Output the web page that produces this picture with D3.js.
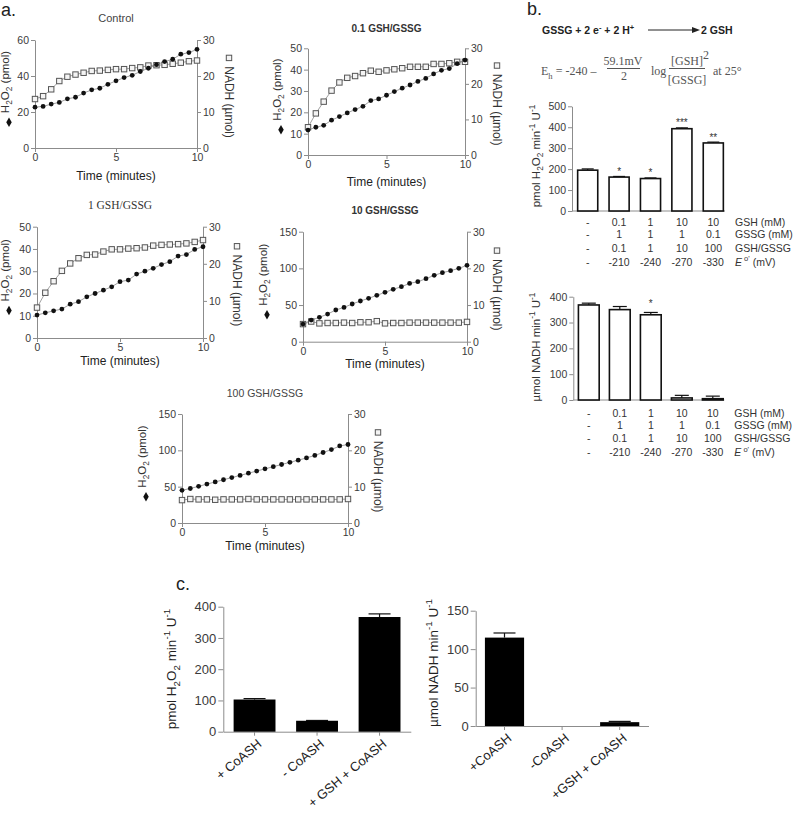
<!DOCTYPE html>
<html><head><meta charset="utf-8">
<script src="https://cdn.jsdelivr.net/npm/d3@7"></script>
<style>
body{margin:0;background:#fff;}
svg{font-family:"Liberation Sans",Arial,sans-serif;}
</style></head><body>
<svg id="fig" width="796" height="817"></svg>
<script>
// ---------- DATA ----------
const times = [0,0.5,1,1.5,2,2.5,3,3.5,4,4.5,5,5.5,6,6.5,7,7.5,8,8.5,9,9.5,10];
const timeTicks = [0,5,10];
const nadhTicks = [0,10,20,30];

const ctrlH2O2 = [22.7,23.1,24.4,25.3,27.3,28.2,30.5,32.3,33.2,35.4,37.3,39.1,40.4,42.5,44.3,46.3,48.0,49.3,52.1,53.0,54.8];
const ctrlNADH = [13.6,14.4,16.3,18.6,19.8,20.4,20.9,21.4,21.5,21.7,21.9,21.9,22.2,22.4,22.9,23.0,23.1,23.4,23.7,24.1,24.3];
const r01H2O2 = [11.7,13.0,13.9,16.3,18.0,19.7,21.3,22.8,25.5,26.3,28.0,29.7,31.3,32.8,34.5,35.9,38.0,39.7,40.5,42.8,44.5];
const r01NADH = [7.8,11.7,15.0,18.1,20.4,21.7,22.2,23.0,23.7,23.4,23.8,24.1,24.4,24.8,24.8,24.8,25.6,25.6,25.8,26.2,26.2];
const r1H2O2 = [10.3,11.3,12.2,13.0,15.2,16.3,18.5,20.0,21.5,23.0,25.3,26.0,28.7,30.0,31.3,33.0,34.3,36.8,37.5,39.8,41.0];
const r1NADH = [8.2,12.2,15.3,18.1,20.1,21.5,22.4,22.5,23.3,23.9,23.9,24.1,24.2,24.4,24.9,25.1,25.2,25.3,25.5,25.9,26.4];
const r10H2O2 = [24.1,29.5,33.2,37.7,43.2,46.8,51.4,55.5,59.1,63.2,67.3,71.4,75.0,79.5,81.8,85.9,90.5,94.1,96.8,100.0,104.1];
const r10NADH = [4.8,5.5,5.0,5.1,5.1,5.2,5.1,5.3,5.3,5.6,5.0,5.1,5.1,5.2,5.2,5.2,5.2,5.2,5.2,5.2,5.4];
const r100H2O2 = [45,47.5,50.5,53.5,56.5,59.5,62.5,65.5,68.5,71.5,74.5,77.5,80.5,83.5,86.5,89.5,93,97,101,106,108];
const r100NADH = [6.3,6.6,6.5,6.5,6.4,6.5,6.5,6.5,6.6,6.5,6.5,6.5,6.5,6.5,6.5,6.5,6.5,6.5,6.5,6.5,6.6];

const bCats = ["c1","c2","c3","c4","c5"];
const bGSH = ["-","0.1","1","10","10"];
const bGSSG = ["-","1","1","1","0.1"];
const bRatio = ["-","0.1","1","10","100"];
const bE = ["-","-210","-240","-270","-330"];
const bH2O2 = [195,162,155,393,325];
const bH2O2Err = [6,3,3,4,4];
const bH2O2Sig = ["","*","*","***","**"];
const bNADH = [368,350,330,8,5];
const bNADHErr = [7,12,9,10,10];
const bNADHSig = ["","","*","",""];

const cCatsL = ["+ CoASH","- CoASH","+ GSH + CoASH"];
const cH2O2 = [103,35,367];
const cH2O2Err = [3,1,10];
const cCatsR = ["+CoASH","-CoASH","+GSH + CoASH"];
const cNADH = [115,0,5];
const cNADHErr = [6,0,1];

// ---------- HELPERS ----------
const FONT = '"Liberation Sans",Arial,sans-serif';
const SERIF = '"Liberation Serif","Times New Roman",serif';
const AX = "#8c8c8c";
const svg = d3.select("#fig");

function styleAxis(g, fs, col) {
  g.attr("font-size", fs).attr("font-family", FONT);
  g.select(".domain").attr("stroke", AX).attr("stroke-width", 1);
  g.selectAll(".tick line").attr("stroke", AX);
  g.selectAll(".tick text").attr("fill", col || "#3a3a3a");
}
function rich(sel, parts, fs) {
  let shift = 0;
  parts.forEach(([t, type]) => {
    const ts = sel.append("tspan").text(t);
    let target = 0, size = fs;
    if (type === "sub") { target = fs * 0.3; size = fs * 0.72; }
    if (type === "sup") { target = -fs * 0.42; size = fs * 0.72; }
    ts.attr("dy", target - shift).attr("font-size", size);
    if (type === "i") ts.attr("font-style", "italic");
    shift = target;
  });
  return sel;
}

// ---------- PANEL a ----------
function timePanel(o) {
  const g = svg.append("g");
  const x = d3.scaleLinear().domain([0, 10]).range([o.l, o.r]);
  const yL = d3.scaleLinear().domain([0, o.lmax]).range([o.b, o.t]);
  const yR = d3.scaleLinear().domain([0, 30]).range([o.b, o.t]);

  const gx = g.append("g").attr("transform", `translate(0,${o.b})`)
    .call(d3.axisBottom(x).tickValues(timeTicks).tickSize(4).tickSizeOuter(0).tickPadding(1.5));
  styleAxis(gx, 10.5);
  const gl = g.append("g").attr("transform", `translate(${o.l},0)`)
    .call(d3.axisLeft(yL).tickValues(o.lticks).tickSize(4).tickSizeOuter(0).tickPadding(2));
  styleAxis(gl, 10.5);
  const gr = g.append("g").attr("transform", `translate(${o.r},0)`)
    .call(d3.axisRight(yR).tickValues(nadhTicks).tickSize(4).tickSizeOuter(0).tickPadding(2));
  styleAxis(gr, 10.5);

  const lnR = d3.line().x((d, i) => x(times[i])).y(d => yR(d));
  const lnL = d3.line().x((d, i) => x(times[i])).y(d => yL(d));
  g.append("path").datum(o.nadh).attr("d", lnR).attr("fill", "none").attr("stroke", "#a0a0a0").attr("stroke-width", 1);
  g.append("path").datum(o.h2o2).attr("d", lnL).attr("fill", "none").attr("stroke", "#a0a0a0").attr("stroke-width", 1);
  g.selectAll("rect.sq").data(o.nadh).join("rect").attr("class", "sq")
    .attr("x", (d, i) => x(times[i]) - 2.7).attr("y", d => yR(d) - 2.7)
    .attr("width", 5.4).attr("height", 5.4)
    .attr("fill", "#f4f4f4").attr("stroke", "#555").attr("stroke-width", 1);
  g.selectAll("circle.pt").data(o.h2o2).join("circle").attr("class", "pt")
    .attr("cx", (d, i) => x(times[i])).attr("cy", d => yL(d)).attr("r", 2.4).attr("fill", "#111");

  // title
  g.append("text").attr("x", (o.l + o.r) / 2).attr("y", o.titleY).attr("text-anchor", "middle")
    .attr("font-family", o.titleFont || FONT).attr("font-weight", o.titleWeight || "normal")
    .attr("font-size", o.titleSize).attr("fill", o.titleColor || "#444").text(o.title);
  // time label
  g.append("text").attr("x", (o.l + o.r) / 2).attr("y", o.b + o.timeOff).attr("dy", "0.35em")
    .attr("text-anchor", "middle").attr("font-size", 12).attr("fill", "#222").text("Time (minutes)");

  const mid = (o.t + o.b) / 2;
  // left label
  const lc = mid - 12;
  const tl = g.append("text").attr("transform", `translate(${o.l - o.loff},${lc}) rotate(-90)`)
    .attr("text-anchor", "middle").attr("dy", "0.3em").attr("fill", "#333");
  rich(tl, [["H", "n"], ["2", "sub"], ["O", "n"], ["2", "sub"], [" (pmol)", "n"]], 11.5);
  const lenL = tl.node().getComputedTextLength();
  g.append("path").attr("d", d3.symbol(d3.symbolDiamond, 26)())
    .attr("transform", `translate(${o.l - o.loff},${lc + lenL / 2 + 9})`).attr("fill", "#111");
  // right label
  const rc = mid + 8;
  const tr = g.append("text").attr("transform", `translate(${o.r + o.roff},${rc}) rotate(90)`)
    .attr("text-anchor", "middle").attr("dy", "0.35em").attr("fill", "#333")
    .attr("font-size", 12).text("NADH (\u00b5mol)");
  const lenR = tr.node().getComputedTextLength();
  g.append("rect").attr("x", o.r + o.roff - 2.7).attr("y", rc - lenR / 2 - 11)
    .attr("width", 5.4).attr("height", 5.4).attr("fill", "#f4f4f4").attr("stroke", "#555");
}

timePanel({l: 35, r: 197, t: 40, b: 148, lmax: 60, lticks: [0,20,40,60], h2o2: ctrlH2O2, nadh: ctrlNADH,
  title: "Control", titleY: 22, titleSize: 11, timeOff: 28, loff: 26, roff: 32});
timePanel({l: 308, r: 465, t: 48.3, b: 155, lmax: 50, lticks: [0,10,20,30,40,50], h2o2: r01H2O2, nadh: r01NADH,
  title: "0.1 GSH/GSSG", titleY: 32, titleSize: 10, titleWeight: "bold", titleColor: "#333", timeOff: 27, loff: 27, roff: 32});
timePanel({l: 37, r: 203, t: 226.7, b: 338, lmax: 50, lticks: [0,10,20,30,40,50], h2o2: r1H2O2, nadh: r1NADH,
  title: "1 GSH/GSSG", titleY: 209, titleSize: 11.5, titleFont: SERIF, titleColor: "#333", timeOff: 22.5, loff: 28, roff: 34});
timePanel({l: 303, r: 467, t: 231.7, b: 341.7, lmax: 150, lticks: [0,50,100,150], h2o2: r10H2O2, nadh: r10NADH,
  title: "10 GSH/GSSG", titleY: 214, titleSize: 10, titleWeight: "bold", titleColor: "#333", timeOff: 22, loff: 36, roff: 30});
timePanel({l: 182, r: 348, t: 414, b: 523, lmax: 150, lticks: [0,50,100,150], h2o2: r100H2O2, nadh: r100NADH,
  title: "100 GSH/GSSG", titleY: 397, titleSize: 10.5, timeOff: 23, loff: 36, roff: 30});

// panel letters
svg.append("text").attr("x", 1).attr("y", 16).attr("font-size", 18).attr("fill", "#222").text("a.");
svg.append("text").attr("x", 527).attr("y", 15).attr("font-size", 18).attr("fill", "#222").text("b.");
svg.append("text").attr("x", 176).attr("y", 590).attr("font-size", 18).attr("fill", "#222").text("c.");

// ---------- PANEL b : equations ----------
const eq = svg.append("g").attr("fill", "#222");
const rx = eq.append("text").attr("x", 542).attr("y", 34).attr("font-size", 10.5).attr("font-weight", "bold");
rich(rx, [["GSSG + 2 e", "n"], ["-", "sup"], [" + 2 H", "n"], ["+", "sup"]], 10.5);
eq.append("line").attr("x1", 648).attr("x2", 694).attr("y1", 30).attr("y2", 30).attr("stroke", "#222").attr("stroke-width", 1);
eq.append("path").attr("d", "M692,27 L700,30 L692,33 Z").attr("fill", "#222");
eq.append("text").attr("x", 701).attr("y", 34).attr("font-size", 10.5).attr("font-weight", "bold").text("2 GSH");

const eg = svg.append("g").attr("fill", "#555").attr("font-family", SERIF).attr("font-size", 12);
const e1 = eg.append("text").attr("x", 541).attr("y", 75);
rich(e1, [["E", "n"], ["h", "sub"], [" = -240 \u2013", "n"]], 12);
eg.append("text").attr("x", 623).attr("y", 65).attr("text-anchor", "middle").text("59.1mV");
eg.append("line").attr("x1", 607).attr("x2", 640).attr("y1", 68.5).attr("y2", 68.5).attr("stroke", "#555");
eg.append("text").attr("x", 624).attr("y", 80).attr("text-anchor", "middle").text("2");
eg.append("text").attr("x", 651).attr("y", 75).text("log");
eg.append("text").attr("x", 687).attr("y", 65).attr("text-anchor", "middle").text("[GSH]");
eg.append("text").attr("x", 706).attr("y", 59).attr("text-anchor", "middle").text("2");
eg.append("line").attr("x1", 669).attr("x2", 705).attr("y1", 68.5).attr("y2", 68.5).attr("stroke", "#555");
eg.append("text").attr("x", 687).attr("y", 84).attr("text-anchor", "middle").text("[GSSG]");
eg.append("text").attr("x", 713).attr("y", 75).text("at 25\u00b0");

// ---------- PANEL b : bar charts ----------
function bBar(o) {
  const g = svg.append("g");
  const x = d3.scaleBand().domain(bCats).range([o.l, o.l + 5 * o.step]).paddingInner(o.pad).paddingOuter(o.pad / 2);
  const y = d3.scaleLinear().domain([0, o.max]).range([o.b, o.t]);
  const gy = g.append("g").attr("transform", `translate(${o.l},0)`)
    .call(d3.axisLeft(y).tickValues(o.ticks).tickSize(4).tickSizeOuter(0).tickPadding(2));
  styleAxis(gy, 10.5);
  g.append("line").attr("x1", o.l).attr("x2", o.l + 5 * o.step - 4).attr("y1", o.b).attr("y2", o.b).attr("stroke", AX);
  const cx = d => x(d) + x.bandwidth() / 2;
  // error bars
  g.selectAll("line.eb").data(bCats).join("line").attr("class", "eb")
    .attr("x1", cx).attr("x2", cx).attr("y1", (d, i) => y(o.vals[i])).attr("y2", (d, i) => y(o.vals[i] + o.errs[i]))
    .attr("stroke", "#111").attr("stroke-width", 1.2);
  g.selectAll("line.cap").data(bCats).join("line").attr("class", "cap")
    .attr("x1", d => cx(d) - o.cap / 2).attr("x2", d => cx(d) + o.cap / 2)
    .attr("y1", (d, i) => y(o.vals[i] + o.errs[i])).attr("y2", (d, i) => y(o.vals[i] + o.errs[i]))
    .attr("stroke", "#111").attr("stroke-width", 1.2);
  g.selectAll("rect.bar").data(bCats).join("rect").attr("class", "bar")
    .attr("x", d => x(d)).attr("width", x.bandwidth())
    .attr("y", (d, i) => y(o.vals[i])).attr("height", (d, i) => o.b - y(o.vals[i]))
    .attr("fill", "#fff").attr("stroke", "#111").attr("stroke-width", 1.6);
  g.selectAll("text.sig").data(bCats).join("text").attr("class", "sig")
    .attr("x", cx).attr("y", (d, i) => y(o.vals[i] + o.errs[i]) - o.sigOff)
    .attr("text-anchor", "middle").attr("font-size", 10).attr("fill", "#333")
    .text((d, i) => o.sig[i]);
  // table
  const rows = [bGSH, bGSSG, bRatio, bE];
  rows.forEach((row, ri) => {
    g.selectAll(null).data(bCats).join("text")
      .attr("x", cx).attr("y", o.b + o.rowY[ri]).attr("text-anchor", "middle")
      .attr("font-size", 10.5).attr("fill", "#333").text((d, i) => row[i]);
  });
  const lx = o.l + 5 * o.step + 6;
  g.append("text").attr("x", lx).attr("y", o.b + o.rowY[0]).attr("font-size", 10.5).attr("fill", "#333").text("GSH (mM)");
  g.append("text").attr("x", lx).attr("y", o.b + o.rowY[1]).attr("font-size", 10.5).attr("fill", "#333").text("GSSG (mM)");
  g.append("text").attr("x", lx).attr("y", o.b + o.rowY[2]).attr("font-size", 10.5).attr("fill", "#333").text("GSH/GSSG");
  const et = g.append("text").attr("x", lx).attr("y", o.b + o.rowY[3]).attr("font-size", 10.5).attr("fill", "#333");
  rich(et, [["E", "i"], [" o'", "sup"], [" (mV)", "n"]], 10.5);
  // y label
  const yl = g.append("text").attr("transform", `translate(${o.labX},${o.labY}) rotate(-90)`)
    .attr("text-anchor", "middle").attr("dy", "0.35em").attr("fill", "#333");
  rich(yl, o.label, 11.5);
}
bBar({l: 572, step: 31.4, pad: 0.36, b: 211, t: 106.3, max: 500, ticks: [0,100,200,300,400,500],
  vals: bH2O2, errs: bH2O2Err, sig: bH2O2Sig, cap: 12, sigOff: 1.5, rowY: [15, 27, 41, 54.5],
  labX: 540, labY: 156,
  label: [["pmol H", "n"], ["2", "sub"], ["O", "n"], ["2", "sub"], [" min", "n"], ["-1", "sup"], [" U", "n"], ["-1", "sup"]]});
bBar({l: 573.3, step: 31, pad: 0.33, b: 400, t: 296.7, max: 400, ticks: [0,100,200,300,400],
  vals: bNADH, errs: bNADHErr, sig: bNADHSig, cap: 14, sigOff: 5, rowY: [16.5, 29, 42, 56],
  labX: 540, labY: 347,
  label: [["\u00b5mol NADH min", "n"], ["-1", "sup"], [" U", "n"], ["-1", "sup"]]});

// ---------- PANEL c ----------
function cBar(o) {
  const g = svg.append("g");
  const x = d3.scaleBand().domain(o.cats).range([o.l, o.l + 3 * o.step]).paddingInner(o.pad).paddingOuter(o.pad / 2);
  const y = d3.scaleLinear().domain([0, o.max]).range([o.b, o.t]);
  const gy = g.append("g").attr("transform", `translate(${o.l},0)`)
    .call(d3.axisLeft(y).tickValues(o.ticks).tickSize(5).tickSizeOuter(0).tickPadding(2));
  styleAxis(gy, 13);
  const gx = g.append("g").attr("transform", `translate(0,${o.b})`)
    .call(d3.axisBottom(x).tickSize(4).tickSizeOuter(0).tickFormat(""));
  styleAxis(gx, 13);
  const cx = d => x(d) + x.bandwidth() / 2;
  g.selectAll("line.eb").data(o.cats).join("line").attr("class", "eb")
    .attr("x1", cx).attr("x2", cx).attr("y1", (d, i) => y(o.vals[i])).attr("y2", (d, i) => y(o.vals[i] + o.errs[i]))
    .attr("stroke", "#111").attr("stroke-width", 1.2);
  g.selectAll("line.cap").data(o.cats.filter((d, i) => o.vals[i] > 0)).join("line").attr("class", "cap")
    .attr("x1", d => cx(d) - 11).attr("x2", d => cx(d) + 11)
    .attr("y1", d => y(o.vals[o.cats.indexOf(d)] + o.errs[o.cats.indexOf(d)]))
    .attr("y2", d => y(o.vals[o.cats.indexOf(d)] + o.errs[o.cats.indexOf(d)]))
    .attr("stroke", "#111").attr("stroke-width", 1.2);
  g.selectAll("rect.bar").data(o.cats).join("rect").attr("class", "bar")
    .attr("x", d => x(d)).attr("width", x.bandwidth())
    .attr("y", (d, i) => y(o.vals[i])).attr("height", (d, i) => o.b - y(o.vals[i]))
    .attr("fill", "#000");
  g.selectAll("text.xl").data(o.cats).join("text").attr("class", "xl")
    .attr("transform", d => `translate(${cx(d) + 5},${o.b + 10}) rotate(-40)`)
    .attr("text-anchor", "end").attr("dy", "0.35em").attr("font-size", 13).attr("fill", "#222").text(d => d);
  const yl = g.append("text").attr("transform", `translate(${o.labX},${o.labY}) rotate(-90)`)
    .attr("text-anchor", "middle").attr("dy", "0.35em").attr("fill", "#222");
  rich(yl, o.label, 13.5);
}
cBar({cats: cCatsL, vals: cH2O2, errs: cH2O2Err, l: 223.3, step: 62.5, pad: 0.33, b: 731.7, t: 606.7, max: 400,
  ticks: [0,100,200,300,400], labX: 176, labY: 669,
  label: [["pmol H", "n"], ["2", "sub"], ["O", "n"], ["2", "sub"], [" min", "n"], ["-1", "sup"], [" U", "n"], ["-1", "sup"]]});
cBar({cats: cCatsR, vals: cNADH, errs: cNADHErr, l: 475.7, step: 57.6, pad: 0.32, b: 726, t: 610.7, max: 150,
  ticks: [0,50,100,150], labX: 438, labY: 663,
  label: [["\u00b5mol NADH min", "n"], ["-1", "sup"], [" U", "n"], ["-1", "sup"]]});
</script>
</body></html>
